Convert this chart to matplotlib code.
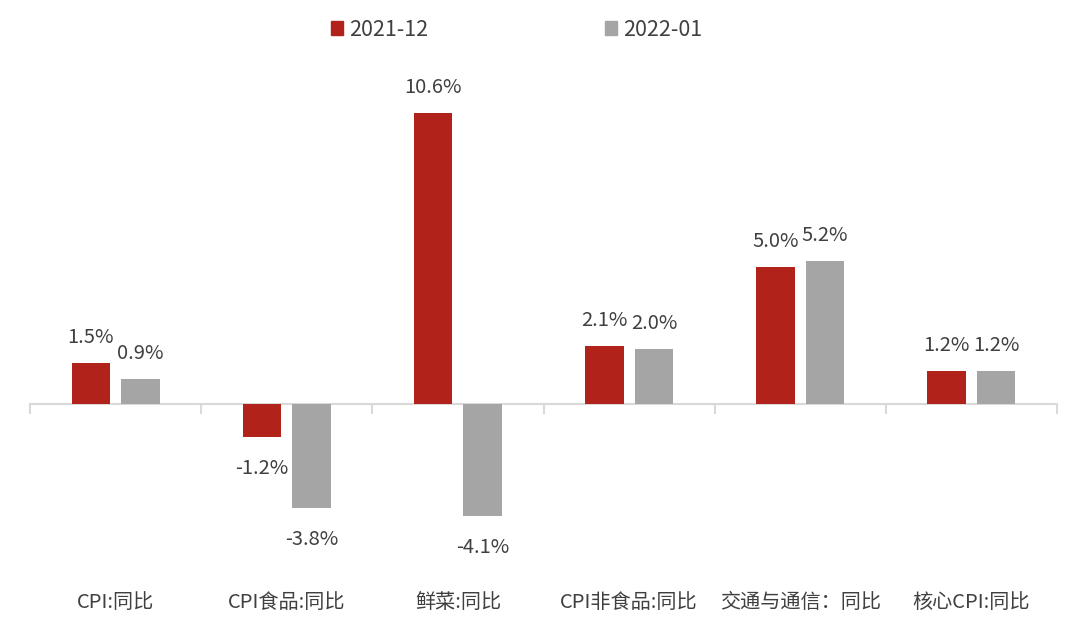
import matplotlib
matplotlib.use("Agg")
import matplotlib.pyplot as plt
import numpy as np

plt.rcParams['font.family'] = ['Noto Sans CJK SC', 'DejaVu Sans']

categories = ["CPI:同比", "CPI食品:同比", "鲜菜:同比", "CPI非食品:同比", "交通与通信：同比", "核心CPI:同比"]
series_names = ["2021-12", "2022-01"]
dec_2021 = [1.5, -1.2, 10.6, 2.1, 5.0, 1.2]
jan_2022 = [0.9, -3.8, -4.1, 2.0, 5.2, 1.2]

colors = ["#B0221A", "#A5A5A5"]
text_color = "#404040"

fig = plt.figure(figsize=(10.8, 6.3), dpi=100)
ax = fig.add_axes([30/1080, 50/630, 1027/1080, 520/630])

n = len(categories)
x = np.arange(n)
w = 0.225
gap = 0.065
offsets = [-(w + gap) / 2, (w + gap) / 2]

for vals, off, c in zip([dec_2021, jan_2022], offsets, colors):
    bars = ax.bar(x + off, vals, width=w, color=c, zorder=3)
    for b, v in zip(bars, vals):
        cx = b.get_x() + b.get_width() / 2
        if v >= 0:
            ax.annotate(f"{v:.1f}%", (cx, v), xytext=(0, 11), textcoords="offset points",
                        ha="center", va="bottom", fontsize=14.5, color=text_color)
        else:
            ax.annotate(f"{v:.1f}%", (cx, v), xytext=(0, -15), textcoords="offset points",
                        ha="center", va="top", fontsize=14.5, color=text_color)

ax.set_xlim(-0.5, n - 0.5)
ax.set_ylim(-6.42, 12.55)

for s in ["top", "right", "left"]:
    ax.spines[s].set_visible(False)
ax.spines["bottom"].set_position(("data", 0))
ax.spines["bottom"].set_color("#D9D9D9")
ax.spines["bottom"].set_linewidth(1.5)
ax.spines["bottom"].set_zorder(2)
ax.set_yticks([])
ax.set_xticks(np.arange(-0.5, n, 1.0))
ax.set_xticklabels([])
ax.tick_params(axis="x", direction="out", length=7, width=1.5, color="#D9D9D9")

for i, lab in enumerate(categories):
    ax.text(i, -0.044, lab, transform=ax.get_xaxis_transform(), ha="center", va="center",
            fontsize=14.5, color=text_color)

handles = [plt.Rectangle((0, 0), 1, 1, color=c) for c in colors]
fig.legend(handles, series_names, loc="center", bbox_to_anchor=(0.478, 0.953), ncol=2,
           frameon=False, fontsize=15.5, labelcolor=text_color, handlelength=0.6,
           handleheight=0.6, handletextpad=0.25, columnspacing=8.2)

fig.savefig("out.png", dpi=100)
